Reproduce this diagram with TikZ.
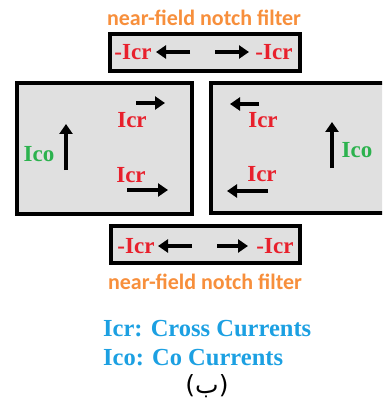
\documentclass[tikz,border=0pt]{standalone}
\usepackage{fontspec}
\setmainfont{Liberation Serif}
\newfontfamily\tnrfam{Liberation Serif}
\newfontfamily\labelsans{Carlito}
\newfontfamily\arabicfont[Script=Arabic]{DejaVu Sans}
\usetikzlibrary{arrows.meta}
\definecolor{fillgray}{RGB}{224,224,224}
\definecolor{ornge}{RGB}{247,143,60}
\definecolor{crred}{RGB}{232,32,44}
\definecolor{cogreen}{RGB}{44,178,78}
\definecolor{legblue}{RGB}{28,160,226}
\tikzset{
  panel/.style={draw=black, line width=4pt, fill=fillgray},
  cur/.style={line width=3.2pt, -{Triangle[length=10pt,width=13pt]}},
  crlab/.style={text=crred, font=\tnrfam\bfseries\fontsize{23}{26}\selectfont, inner sep=0pt},
  colab/.style={text=cogreen, font=\tnrfam\bfseries\fontsize{23}{26}\selectfont, inner sep=0pt},
  filtlab/.style={text=ornge, font=\labelsans\bfseries\fontsize{22}{24}\selectfont, inner sep=0pt},
  leg/.style={text=legblue, font=\tnrfam\bfseries\fontsize{24.5}{27}\selectfont, inner sep=0pt, anchor=west}
}
\begin{document}
\begin{tikzpicture}[x=1pt,y=-1pt]
\useasboundingbox (0,0) rectangle (382,406);
\clip (0,0) rectangle (382,406);
% top filter
\node[filtlab] (t1) at (204,18) {near-field notch filter};
\draw[panel] (110,34) rectangle (300,71);
\node[crlab] (ta) at (133,52) {-Icr};
\node[crlab] (tb) at (274,52) {-Icr};
\coordinate (ta1) at (190,52); \coordinate (ta2) at (156,52);
\coordinate (tb1) at (215,52); \coordinate (tb2) at (249,52);
\draw[cur] (ta1) -- (ta2);
\draw[cur] (tb1) -- (tb2);
% left box
\draw[panel] (17,83) rectangle (192,214);
\node[crlab] (l1) at (132,120) {Icr};
\node[crlab] (l2) at (131,175) {Icr};
\node[colab] (l3) at (39,154) {Ico};
\coordinate (la1) at (136,103); \coordinate (la2) at (165,103);
\coordinate (lb1) at (127,190); \coordinate (lb2) at (168,190);
\coordinate (lc1) at (66,170); \coordinate (lc2) at (66,124);
\draw[cur] (la1) -- (la2);
\draw[cur] (lb1) -- (lb2);
\draw[cur] (lc1) -- (lc2);
% right box
\draw[panel] (211,83) rectangle (400,213);
\node[crlab] (r1) at (263,120) {Icr};
\node[crlab] (r2) at (262,174) {Icr};
\node[colab] (r3) at (357,150) {Ico};
\coordinate (ra1) at (259,104); \coordinate (ra2) at (230,104);
\coordinate (rb1) at (268,191); \coordinate (rb2) at (227,191);
\coordinate (rc1) at (332,168); \coordinate (rc2) at (332,122);
\draw[cur] (ra1) -- (ra2);
\draw[cur] (rb1) -- (rb2);
\draw[cur] (rc1) -- (rc2);
% bottom filter
\draw[panel] (111,226) rectangle (300,263);
\node[crlab] (ba) at (136,246) {-Icr};
\node[crlab] (bb) at (275,246) {-Icr};
\coordinate (ba1) at (192,246); \coordinate (ba2) at (158,246);
\coordinate (bb1) at (217,246); \coordinate (bb2) at (248,246);
\draw[cur] (ba1) -- (ba2);
\draw[cur] (bb1) -- (bb2);
\node[filtlab] (b1) at (205,282) {near-field notch filter};
% legend
\node[leg] (g1) at (103,329) {Icr: Cross Currents};
\node[leg] (g2) at (103,358) {Ico: Co Currents};
\node[inner sep=0pt, font=\arabicfont\fontsize{25}{28}\selectfont] (cap) at (207,386) {(ب)};
\end{tikzpicture}
\end{document}
